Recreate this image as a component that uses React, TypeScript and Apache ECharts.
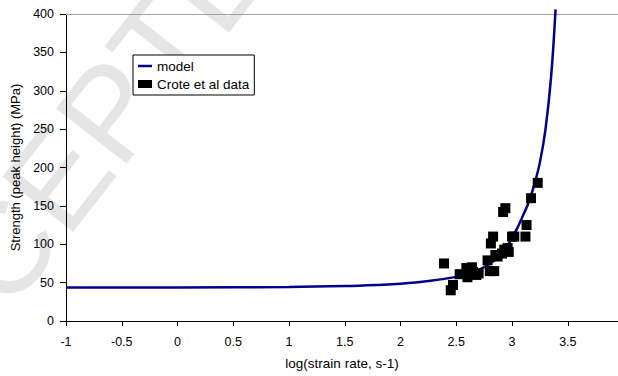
import React, { useEffect, useRef } from "react";
import * as echarts from "echarts";

const xTicks = [-1, -0.5, 0, 0.5, 1, 1.5, 2, 2.5, 3, 3.5];
const yTicks = [0, 50, 100, 150, 200, 250, 300, 350, 400];

const modelX = [-1, 0, 1, 1.5, 1.8, 2, 2.25, 2.5, 2.6, 2.7, 2.8, 2.9, 2.95, 3.0, 3.05, 3.1, 3.15, 3.2, 3.25, 3.3, 3.35, 3.39];
const modelY = [43.5, 43.8, 44.3, 45.5, 47, 48.5, 52, 57.5, 61, 66.5, 74.5, 86, 96, 108, 122, 138, 155, 178, 207, 250, 318, 406];

const dataX = [2.39, 2.45, 2.47, 2.53, 2.59, 2.6, 2.64, 2.65, 2.68, 2.7, 2.78, 2.8, 2.84, 2.81, 2.83, 2.85, 2.87, 2.91, 2.92, 2.94, 2.93, 2.96, 2.97, 3.0, 3.02, 3.12, 3.13, 3.17, 3.23];
const dataY = [75, 40, 47, 61, 69, 57, 70, 64, 60, 62, 79, 65, 65, 101, 110, 86, 84, 88, 142, 147, 93, 95, 90, 110, 110, 110, 125, 160, 180];

const FONT = "'Liberation Sans', Arial, sans-serif";
const LINE_ICON = "path://M0 0 M0 2.75 L14 2.75 L14 5.25 L0 5.25 Z M14 8";

export default function App() {
  const ref = useRef<HTMLDivElement>(null);
  useEffect(() => {
    document.body.style.margin = "0";
    const chart = echarts.init(ref.current!, null, { renderer: "svg" });
    const modelData = modelX.map((x, i) => [x, modelY[i]]);
    const pts = dataX.map((x, i) => [x, dataY[i]]);
    chart.setOption({
      animation: false,
      backgroundColor: "#fff",
      textStyle: { fontFamily: FONT, color: "#000" },
      grid: { left: 66, right: 0, top: 14, bottom: 55 },
      graphic: [
        {
          type: "text",
          x: 80,
          y: 150,
          rotation: (52 * Math.PI) / 180,
          silent: true,
          z: -10,
          style: {
            text: "ACCEPTED",
            font: "130px " + FONT,
            fill: "#e5e5e5",
            align: "center",
            verticalAlign: "middle",
          },
        },
      ],
      legend: {
        left: 133,
        top: 55,
        orient: "vertical",
        backgroundColor: "#fff",
        borderColor: "#000",
        borderWidth: 1,
        borderRadius: 0,
        padding: [4, 5, 4, 5],
        itemGap: 4,
        itemWidth: 14,
        itemHeight: 8,
        textStyle: { fontFamily: FONT, fontSize: 13.5, color: "#000" },
        data: [
          { name: "model", icon: LINE_ICON, itemStyle: { color: "#00008c" } },
          { name: "Crote et al data", icon: "rect" },
        ],
      },
      xAxis: [
        {
          type: "value",
          min: -1,
          max: 3.95,
          interval: 0.5,
          name: "log(strain rate, s-1)",
          nameLocation: "middle",
          nameGap: 35,
          nameTextStyle: { fontFamily: FONT, fontSize: 13.5, color: "#000" },
          axisLine: { show: true, onZero: false, lineStyle: { color: "#000", width: 1 } },
          axisTick: { show: true, length: 5, lineStyle: { color: "#000" }, customValues: xTicks },
          axisLabel: { fontFamily: FONT, fontSize: 12.5, color: "#000", margin: 14, customValues: xTicks },
          splitLine: { show: false },
        },
        {
          type: "value",
          position: "top",
          min: -1,
          max: 3.95,
          axisLine: { show: true, onZero: false, lineStyle: { color: "#a0a0a0", width: 1 } },
          axisTick: { show: false },
          axisLabel: { show: false },
          splitLine: { show: false },
        },
      ],
      yAxis: {
        type: "value",
        min: 0,
        max: 400,
        interval: 50,
        name: "Strength (peak height) (MPa)",
        nameLocation: "middle",
        nameGap: 42,
        nameTextStyle: { fontFamily: FONT, fontSize: 13, color: "#000" },
        axisLine: { show: true, onZero: false, lineStyle: { color: "#000", width: 1 } },
        axisTick: { show: true, length: 6, lineStyle: { color: "#000" }, customValues: yTicks },
        axisLabel: { fontFamily: FONT, fontSize: 12.5, color: "#000", margin: 12, customValues: yTicks },
        splitLine: { show: false },
      },
      series: [
        {
          name: "model",
          type: "line",
          data: modelData,
          smooth: 0.4,
          symbol: "none",
          clip: false,
          lineStyle: { color: "#00008c", width: 2.5 },
          itemStyle: { color: "#00008c" },
          z: 2,
        },
        {
          name: "Crote et al data",
          type: "scatter",
          data: pts,
          symbol: "rect",
          symbolSize: 10,
          itemStyle: { color: "#000", opacity: 1 },
          z: 3,
        },
      ],
    });
    return () => chart.dispose();
  }, []);
  return <div ref={ref} style={{ width: 618, height: 376 }} />;
}
